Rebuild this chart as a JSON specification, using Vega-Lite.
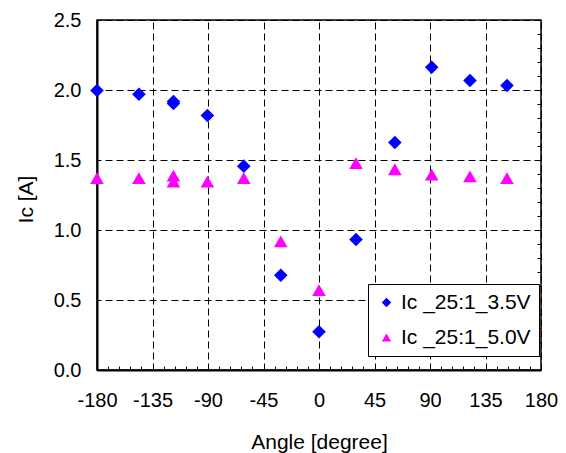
{
  "$schema": "https://vega.github.io/schema/vega-lite/v6.json",
  "width": 444,
  "height": 350,
  "autosize": {"type": "none"},
  "padding": {"left": 97, "top": 20, "right": 25, "bottom": 83},
  "background": "white",
  "config": {
    "view": {"stroke": "#000000", "strokeWidth": 1.5},
    "font": "Liberation Sans",
    "axis": {"labelFont": "Liberation Sans", "titleFont": "Liberation Sans", "labelColor": "#000", "titleColor": "#000"},
    "legend": {"labelFont": "Liberation Sans"}
  },
  "data": {
    "values": [
      {"angle": -180, "ic": 1.996, "series": "Ic _25:1_3.5V"},
      {"angle": -146, "ic": 1.970, "series": "Ic _25:1_3.5V"},
      {"angle": -118, "ic": 1.918, "series": "Ic _25:1_3.5V"},
      {"angle": -118, "ic": 1.904, "series": "Ic _25:1_3.5V"},
      {"angle": -90.5, "ic": 1.818, "series": "Ic _25:1_3.5V"},
      {"angle": -61, "ic": 1.456, "series": "Ic _25:1_3.5V"},
      {"angle": -31, "ic": 0.677, "series": "Ic _25:1_3.5V"},
      {"angle": 0, "ic": 0.273, "series": "Ic _25:1_3.5V"},
      {"angle": 30, "ic": 0.932, "series": "Ic _25:1_3.5V"},
      {"angle": 61.5, "ic": 1.625, "series": "Ic _25:1_3.5V"},
      {"angle": 91.4, "ic": 2.163, "series": "Ic _25:1_3.5V"},
      {"angle": 122.4, "ic": 2.068, "series": "Ic _25:1_3.5V"},
      {"angle": 152.4, "ic": 2.032, "series": "Ic _25:1_3.5V"},
      {"angle": -180, "ic": 1.370, "series": "Ic _25:1_5.0V"},
      {"angle": -146, "ic": 1.370, "series": "Ic _25:1_5.0V"},
      {"angle": -118, "ic": 1.389, "series": "Ic _25:1_5.0V"},
      {"angle": -118, "ic": 1.346, "series": "Ic _25:1_5.0V"},
      {"angle": -90.5, "ic": 1.346, "series": "Ic _25:1_5.0V"},
      {"angle": -61, "ic": 1.370, "series": "Ic _25:1_5.0V"},
      {"angle": -31, "ic": 0.918, "series": "Ic _25:1_5.0V"},
      {"angle": 0, "ic": 0.570, "series": "Ic _25:1_5.0V"},
      {"angle": 30, "ic": 1.477, "series": "Ic _25:1_5.0V"},
      {"angle": 61.5, "ic": 1.434, "series": "Ic _25:1_5.0V"},
      {"angle": 91.4, "ic": 1.396, "series": "Ic _25:1_5.0V"},
      {"angle": 122.4, "ic": 1.383, "series": "Ic _25:1_5.0V"},
      {"angle": 152.4, "ic": 1.371, "series": "Ic _25:1_5.0V"}
    ]
  },
  "resolve": {"axis": {"x": "independent", "y": "independent"}},
  "layer": [
    {
      "mark": {"type": "point", "filled": true, "opacity": 1, "size": 185, "strokeWidth": 0},
      "encoding": {
        "x": {
          "field": "angle", "type": "quantitative",
          "scale": {"domain": [-180, 180], "nice": false, "zero": false},
          "axis": {
            "orient": "bottom",
            "values": [-180, -135, -90, -45, 0, 45, 90, 135, 180],
            "labelExpr": "datum.value < 0 ? '-' + abs(datum.value) : '' + datum.value",
            "title": "Angle [degree]",
            "titleFontSize": 21, "titleFontWeight": "normal",
            "titleBaseline": "alphabetic", "titleY": 78,
            "labelFontSize": 20, "labelPadding": 20,
            "labelFlush": false, "labelOverlap": false,
            "ticks": false,
            "domainColor": "#000", "domainWidth": 2,
            "grid": true, "gridColor": "#000", "gridDash": [7, 4], "gridDashOffset": 9, "gridWidth": 1, "gridOpacity": 1
          }
        },
        "y": {
          "field": "ic", "type": "quantitative",
          "scale": {"domain": [0, 2.5], "nice": false, "zero": false},
          "axis": {
            "orient": "left",
            "values": [0, 0.5, 1, 1.5, 2, 2.5],
            "format": ".1f",
            "title": "Ic [A]",
            "titleFontSize": 21, "titleFontWeight": "normal",
            "titleBaseline": "alphabetic", "titleX": -65, "titleY": 179, "titleAngle": -90,
            "labelFontSize": 20, "labelPadding": 16,
            "labelFlush": false, "labelOverlap": false,
            "ticks": false,
            "domainColor": "#000", "domainWidth": 2,
            "grid": true, "gridColor": "#000", "gridDash": [7, 4], "gridDashOffset": 3, "gridWidth": 1, "gridOpacity": 1
          }
        },
        "color": {
          "field": "series", "type": "nominal",
          "scale": {"domain": ["Ic _25:1_3.5V", "Ic _25:1_5.0V"], "range": ["#0000FF", "#FF00FF"]},
          "legend": {
            "title": null,
            "orient": "none", "legendX": 271, "legendY": 264,
            "strokeColor": "#000", "fillColor": "#fff", "padding": 8,
            "labelFontSize": 21, "labelColor": "#000", "labelOffset": 4,
            "symbolSize": 90, "symbolStrokeWidth": 0, "rowPadding": 13
          }
        },
        "shape": {
          "field": "series", "type": "nominal",
          "scale": {"domain": ["Ic _25:1_3.5V", "Ic _25:1_5.0V"], "range": ["diamond", "triangle-up"]},
          "legend": {
            "title": null,
            "orient": "none", "legendX": 271, "legendY": 264,
            "strokeColor": "#000", "fillColor": "#fff", "padding": 8,
            "labelFontSize": 21, "labelColor": "#000", "labelOffset": 4,
            "symbolSize": 90, "symbolStrokeWidth": 0, "rowPadding": 13
          }
        }
      }
    },
    {
      "mark": {"type": "point", "opacity": 0},
      "encoding": {
        "x": {
          "field": "angle", "type": "quantitative",
          "axis": {
            "orient": "top",
            "values": [-171, -162, -153, -144, -135, -126, -117, -108, -99, -90, -81, -72, -63, -54, -45, -36, -27, -18, -9, 0, 9, 18, 27, 36, 45, 54, 63, 72, 81, 90, 99, 108, 117, 126, 135, 144, 153, 162, 171],
            "labels": false, "title": null, "domain": false, "ticks": false,
            "grid": true, "gridColor": "#000", "gridDash": [4, 1000], "gridDashOffset": 0, "gridWidth": 1, "gridOpacity": 1
          }
        },
        "y": {
          "field": "ic", "type": "quantitative",
          "axis": {
            "orient": "right",
            "values": [0.1, 0.2, 0.3, 0.4, 0.5, 0.6, 0.7, 0.8, 0.9, 1, 1.1, 1.2, 1.3, 1.4, 1.5, 1.6, 1.7, 1.8, 1.9, 2, 2.1, 2.2, 2.3, 2.4],
            "labels": false, "title": null, "domain": false, "ticks": false,
            "grid": true, "gridColor": "#000", "gridDash": [4, 1000], "gridDashOffset": 0, "gridWidth": 1, "gridOpacity": 1
          }
        }
      }
    }
  ]
}
